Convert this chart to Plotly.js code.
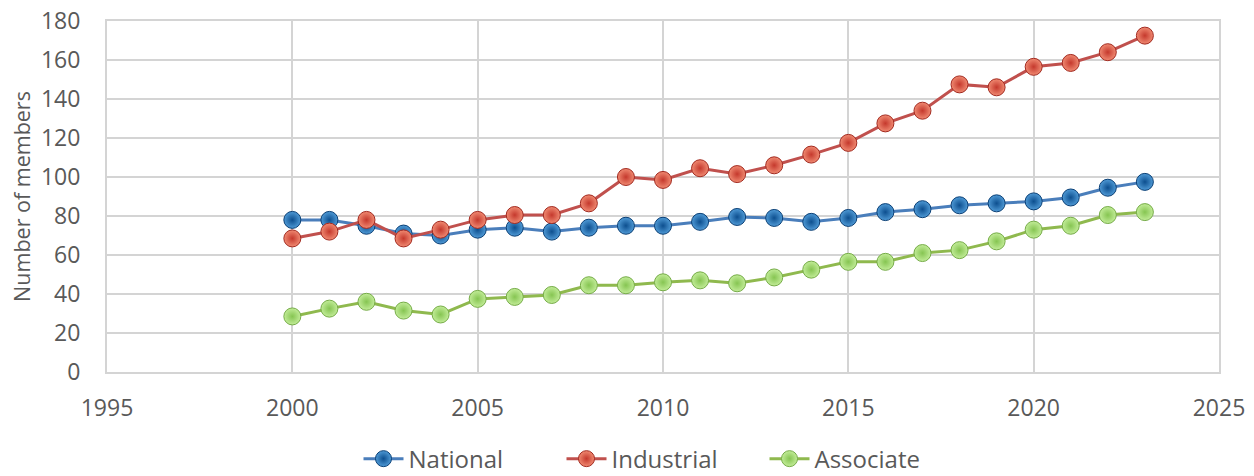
<!DOCTYPE html>
<html>
<head>
<meta charset="utf-8">
<script src="https://cdn.plot.ly/plotly-3.0.1.min.js"></script>
<style>html,body{margin:0;padding:0;background:#fff;}#chart{width:1254px;height:476px;}</style>
</head>
<body>
<div id="chart"></div>
<script>
const years = [2000,2001,2002,2003,2004,2005,2006,2007,2008,2009,2010,2011,2012,2013,2014,2015,2016,2017,2018,2019,2020,2021,2022,2023];
const national = [78,78,75,71,70,73,74,72,74,75,75,77,79.5,79,77,79,82,83.5,85.5,86.5,87.5,89.5,94.5,97.5];
const industrial = [68.5,72,78,68.5,73,78,80.5,80.5,86.5,100,98.5,104.5,101.5,106,111.5,117.5,127.5,134,147.5,146,156.5,158.5,164,172.5];
const associate = [28.5,32.5,36,31.5,29.5,37.5,38.5,39.5,44.5,44.5,46,47,45.5,48.5,52.5,56.5,56.5,61,62.5,67,73,75,80.5,82];
const yTicks = [0,20,40,60,80,100,120,140,160,180];
const xTicks = [1995,2000,2005,2010,2015,2020,2025];

function tr(name, y, lineColor, mColor, edge, hi) {
  return {
    x: years, y: y, name: name, type: 'scatter', mode: 'lines+markers',
    line: {color: lineColor, width: 3},
    marker: {size: 17, color: hi, line: {color: edge, width: 1},
      gradient: {type: 'radial', color: mColor}}
  };
}
const data = [
  tr('National', national, '#4a7ebb', '#0d4f8f', '#0a3f75', '#4f9ad6'),
  tr('Industrial', industrial, '#c0504d', '#c5392d', '#a22a20', '#f08a72'),
  tr('Associate', associate, '#8fb94e', '#86c552', '#76ac48', '#c2ec98')
];
const fam = '"Open Sans", sans-serif';
const font = {family: fam, size: 23, color: '#595959'};
const layout = {
  width: 1254, height: 476,
  margin: {l: 107, r: 35, t: 21, b: 104, autoexpand: false},
  paper_bgcolor: '#fff', plot_bgcolor: '#fff',
  font: font,
  showlegend: true,
  legend: {orientation: 'h', x: 0.5, xanchor: 'center', y: -0.248, yanchor: 'middle',
    font: {family: fam, size: 24, color: '#595959'}, itemwidth: 40, tracegroupgap: 0,
    entrywidth: 148, entrywidthmode: 'pixels'},
  xaxis: {range: [1995, 2025], tickvals: xTicks, ticktext: xTicks.map(String), automargin: false,
    showgrid: true, gridcolor: '#d4d4d4', gridwidth: 2,
    showline: true, linecolor: '#d4d4d4', linewidth: 2, mirror: true,
    zeroline: false, ticks: '', ticklabelstandoff: 14, tickfont: font},
  yaxis: {range: [0, 180], tickvals: yTicks, ticktext: yTicks.map(String), automargin: false,
    showgrid: true, gridcolor: '#d4d4d4', gridwidth: 2,
    showline: true, linecolor: '#d4d4d4', linewidth: 2, mirror: true,
    zeroline: false, ticks: '', ticklabelstandoff: 20, tickfont: font,
    title: {text: 'Number of members', font: {family: fam, size: 21.5, color: '#595959'}, standoff: 4}}
};
Plotly.newPlot('chart', data, layout, {displayModeBar: false, staticPlot: true});
</script>
</body>
</html>
